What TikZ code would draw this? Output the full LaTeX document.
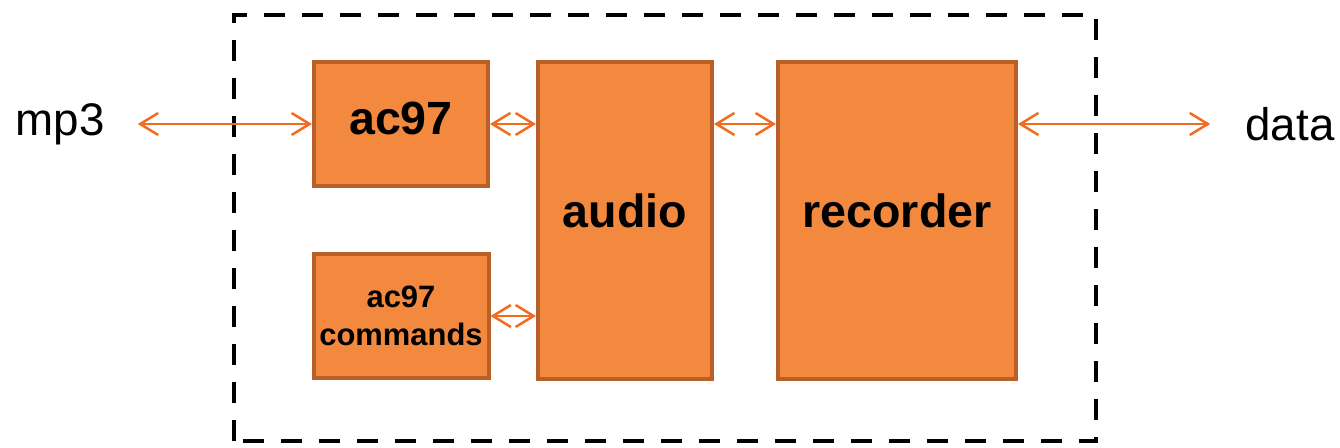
\documentclass[tikz,border=0pt]{standalone}
\usepackage{fontspec}
\setmainfont{Liberation Sans}
\usetikzlibrary{positioning, arrows.meta}
\definecolor{boxfill}{RGB}{242,137,62}
\definecolor{boxline}{RGB}{185,95,40}
\definecolor{linkcol}{RGB}{242,107,33}
\tikzset{
  block/.style={draw=boxline, fill=boxfill, line width=0.08cm,
    minimum width=3.48cm, minimum height=2.48cm, align=center,
    font=\bfseries\fontsize{26.5}{31}\selectfont},
  raised/.style={text depth=#1},
  terminal/.style={inner sep=0pt, font=\fontsize{26}{31}\selectfont},
  link/.style={draw=linkcol, line width=0.05cm,
    {Straight Barb[length=0.36cm,width=0.44cm]}-{Straight Barb[length=0.36cm,width=0.44cm]}},
  frame/.style={line width=0.08cm, dash pattern=on 0.42cm off 0.34cm},
}

\begin{document}
\begin{tikzpicture}
      \useasboundingbox (0,0) rectangle (26.8,8.94);
      \draw[frame] (4.68,0.12) rectangle (21.92,8.64);

      \node[block,raised=7pt]              (ac97) at (8.02,6.46) {ac97};
      \node[block,below=1.28cm of ac97,
            font=\bfseries\fontsize{17.6}{21.5}\selectfont] (cmds) {ac97\\commands};
      \node[block,raised=11pt,right=0.92cm of ac97.north east,anchor=north west,
            minimum height=6.34cm]         (audio) {audio};
      \node[block,raised=11pt,right=1.24cm of audio,minimum width=4.76cm,
            minimum height=6.34cm]         (rec) {recorder};
      \node[terminal]                      (mp3) at (1.2,6.46) {mp3};
      \node[terminal]                      (data) at (25.8,6.46) {data};

      \draw[link] ([xshift=0.66cm]mp3.east) -- (ac97.west);
      \draw[link] (ac97.east) -- (audio.west |- ac97.east);
      \draw[link] (cmds.east) -- (audio.west |- cmds.east);
      \draw[link] (audio.east |- ac97.east) -- (rec.west |- ac97.east);
      \draw[link] (rec.east |- ac97.east) -- ([xshift=-0.7cm]data.west);
\end{tikzpicture}
\end{document}
